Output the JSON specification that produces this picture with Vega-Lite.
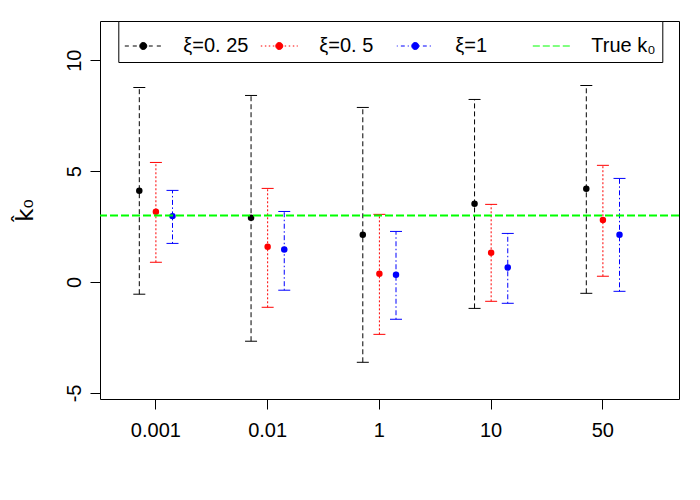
{
  "$schema": "https://vega.github.io/schema/vega-lite/v6.json",
  "width": 579,
  "height": 378,
  "autosize": {"type": "none"},
  "padding": {"left": 100, "top": 21, "right": 21, "bottom": 101},
  "background": "white",
  "config": {
    "view": {"stroke": "black", "strokeWidth": 1},
    "font": "Liberation Sans",
    "axis": {
      "grid": false,
      "domain": false,
      "tickColor": "black",
      "tickSize": 10,
      "tickWidth": 1,
      "labelColor": "black",
      "labelFont": "Liberation Sans",
      "labelFontSize": 20,
      "labelFlush": false,
      "labelOverlap": false
    }
  },
  "datasets": {
    "est": [
      {"k": "0.001", "series": "ξ=0. 25", "est": 4.11, "lower": -0.55, "upper": 8.77},
      {"k": "0.001", "series": "ξ=0. 5", "est": 3.17, "lower": 0.89, "upper": 5.39},
      {"k": "0.001", "series": "ξ=1", "est": 2.97, "lower": 1.74, "upper": 4.13},
      {"k": "0.01", "series": "ξ=0. 25", "est": 2.9, "lower": -2.67, "upper": 8.41},
      {"k": "0.01", "series": "ξ=0. 5", "est": 1.59, "lower": -1.14, "upper": 4.22},
      {"k": "0.01", "series": "ξ=1", "est": 1.46, "lower": -0.37, "upper": 3.18},
      {"k": "1", "series": "ξ=0. 25", "est": 2.13, "lower": -3.62, "upper": 7.87},
      {"k": "1", "series": "ξ=0. 5", "est": 0.37, "lower": -2.36, "upper": 3.05},
      {"k": "1", "series": "ξ=1", "est": 0.33, "lower": -1.68, "upper": 2.28},
      {"k": "10", "series": "ξ=0. 25", "est": 3.53, "lower": -1.19, "upper": 8.23},
      {"k": "10", "series": "ξ=0. 5", "est": 1.32, "lower": -0.87, "upper": 3.5},
      {"k": "10", "series": "ξ=1", "est": 0.65, "lower": -0.96, "upper": 2.19},
      {"k": "50", "series": "ξ=0. 25", "est": 4.2, "lower": -0.51, "upper": 8.86},
      {"k": "50", "series": "ξ=0. 5", "est": 2.79, "lower": 0.26, "upper": 5.26},
      {"k": "50", "series": "ξ=1", "est": 2.13, "lower": -0.42, "upper": 4.67}
    ],
    "truth": [{"series": "True k₀", "k0": 3}]
  },
  "layer": [
    {
      "data": {"name": "est"},
      "transform": [{"filter": "false"}],
      "mark": {"type": "point", "filled": false, "strokeWidth": 1},
      "encoding": {
        "x": {
          "field": "k", "type": "ordinal",
          "scale": {"type": "band", "domain": ["0.001", "0.01", "1", "10", "50"], "paddingInner": 0, "paddingOuter": 0.0906, "align": 0},
          "axis": {"title": null, "labelAngle": 0, "bandPosition": 0.5, "labelPadding": 11}
        },
        "y": {
          "field": "est", "type": "quantitative",
          "scale": {"domain": [-5.275, 11.767], "nice": false, "zero": false},
          "axis": {
            "title": "k̂₀", "values": [-5, 0, 5, 10], "labelExpr": "toString(datum.value)",
            "labelAngle": 270, "labelAlign": "center", "labelBaseline": "alphabetic", "labelPadding": 10,
            "titleFont": "DejaVu Sans", "titleFontSize": 23, "titleFontWeight": "normal", "titleColor": "black",
            "titleAngle": 270, "titleX": -68, "titleY": 189, "titleAlign": "center", "titleBaseline": "alphabetic"
          }
        },
        "color": {
          "field": "series",
          "type": "nominal",
          "scale": {"domain": ["ξ=0. 25", "ξ=0. 5", "ξ=1", "True k₀"], "range": ["#000000", "#FF0000", "#0000FF", "#00FF00"]},
          "legend": {
            "title": null, "orient": "none", "legendX": 18.3, "legendY": 0,
            "direction": "horizontal", "columns": 4, "gridAlign": "all",
            "padding": 6, "strokeColor": "black", "fillColor": "white",
            "symbolSize": 1369, "symbolStrokeWidth": 1, "symbolOpacity": 1,
            "labelFont": "Liberation Sans", "labelFontSize": 20, "labelColor": "black",
            "labelOffset": 21, "columnPadding": 9, "rowPadding": 0, "labelLimit": 200
          }
        },
        "shape": {
          "field": "series",
          "type": "nominal",
          "scale": {
            "domain": ["ξ=0. 25", "ξ=0. 5", "ξ=1", "True k₀"],
            "range": [
              "M-1,0H-0.78M-0.57,0H-0.35M0.3,0H0.51M0.73,0H0.95M0.19,0A0.19,0.19 0 1,1 -0.19,0A0.19,0.19 0 1,1 0.19,0ZM0.14,0A0.14,0.14 0 1,1 -0.14,0A0.14,0.14 0 1,1 0.14,0ZM0.09,0A0.09,0.09 0 1,1 -0.09,0A0.09,0.09 0 1,1 0.09,0ZM0.04,0A0.04,0.04 0 1,1 -0.04,0A0.04,0.04 0 1,1 0.04,0Z",
              "M-1,0H-0.92M-0.78,0H-0.7M-0.57,0H-0.49M-0.35,0H-0.27M0.29,0H0.37M0.51,0H0.59M0.73,0H0.81M0.94,0H1M0.19,0A0.19,0.19 0 1,1 -0.19,0A0.19,0.19 0 1,1 0.19,0ZM0.14,0A0.14,0.14 0 1,1 -0.14,0A0.14,0.14 0 1,1 0.14,0ZM0.09,0A0.09,0.09 0 1,1 -0.09,0A0.09,0.09 0 1,1 0.09,0ZM0.04,0A0.04,0.04 0 1,1 -0.04,0A0.04,0.04 0 1,1 0.04,0Z",
              "M-1,0H-0.95M-0.78,0H-0.57M-0.41,0H-0.35M0.19,0H0.24M0.41,0H0.62M0.78,0H0.84M0.19,0A0.19,0.19 0 1,1 -0.19,0A0.19,0.19 0 1,1 0.19,0ZM0.14,0A0.14,0.14 0 1,1 -0.14,0A0.14,0.14 0 1,1 0.14,0ZM0.09,0A0.09,0.09 0 1,1 -0.09,0A0.09,0.09 0 1,1 0.09,0ZM0.04,0A0.04,0.04 0 1,1 -0.04,0A0.04,0.04 0 1,1 0.04,0Z",
              "M-1,0H-0.62M-0.46,0H-0.08M0.08,0H0.46M0.62,0H1"
            ]
          },
          "legend": {
            "title": null, "orient": "none", "legendX": 18.3, "legendY": 0,
            "direction": "horizontal", "columns": 4, "gridAlign": "all",
            "padding": 6, "strokeColor": "black", "fillColor": "white",
            "symbolSize": 1369, "symbolStrokeWidth": 1, "symbolOpacity": 1,
            "labelFont": "Liberation Sans", "labelFontSize": 20, "labelColor": "black",
            "labelOffset": 21, "columnPadding": 9, "rowPadding": 0, "labelLimit": 200
          }
        }
      }
    },
    {
      "data": {"name": "est"},
      "mark": {"type": "rule", "strokeWidth": 1},
      "encoding": {
        "x": {"field": "k", "type": "ordinal"},
        "xOffset": {"field": "series", "type": "nominal", "scale": {"type": "point", "domain": ["ξ=0. 25", "ξ=0. 5", "ξ=1"], "range": [39.3, 72.5], "padding": 0}},
        "y": {"field": "lower", "type": "quantitative"},
        "y2": {"field": "upper"},
        "color": {"field": "series", "type": "nominal", "legend": null},
        "strokeDash": {"field": "series", "type": "nominal", "scale": {"domain": ["ξ=0. 25", "ξ=0. 5", "ξ=1"], "range": [[5, 3], [2, 2], [1.5, 2.5, 5, 2.5]]}, "legend": null}
      }
    },
    {
      "data": {"name": "est"},
      "mark": {"type": "tick", "orient": "horizontal", "size": 12, "thickness": 1, "opacity": 1},
      "encoding": {
        "x": {"field": "k", "type": "ordinal"},
        "xOffset": {"field": "series", "type": "nominal"},
        "y": {"field": "lower", "type": "quantitative"},
        "color": {"field": "series", "type": "nominal", "legend": null}
      }
    },
    {
      "data": {"name": "est"},
      "mark": {"type": "tick", "orient": "horizontal", "size": 12, "thickness": 1, "opacity": 1},
      "encoding": {
        "x": {"field": "k", "type": "ordinal"},
        "xOffset": {"field": "series", "type": "nominal"},
        "y": {"field": "upper", "type": "quantitative"},
        "color": {"field": "series", "type": "nominal", "legend": null}
      }
    },
    {
      "data": {"name": "est"},
      "mark": {"type": "point", "filled": true, "size": 42, "opacity": 1, "shape": "circle"},
      "encoding": {
        "x": {"field": "k", "type": "ordinal"},
        "xOffset": {"field": "series", "type": "nominal"},
        "y": {"field": "est", "type": "quantitative"},
        "color": {"field": "series", "type": "nominal", "legend": null}
      }
    },
    {
      "data": {"name": "truth"},
      "mark": {"type": "rule", "strokeWidth": 2, "strokeDash": [8, 3]},
      "encoding": {
        "y": {"field": "k0", "type": "quantitative"},
        "color": {"field": "series", "type": "nominal", "legend": null}
      }
    }
  ]
}
